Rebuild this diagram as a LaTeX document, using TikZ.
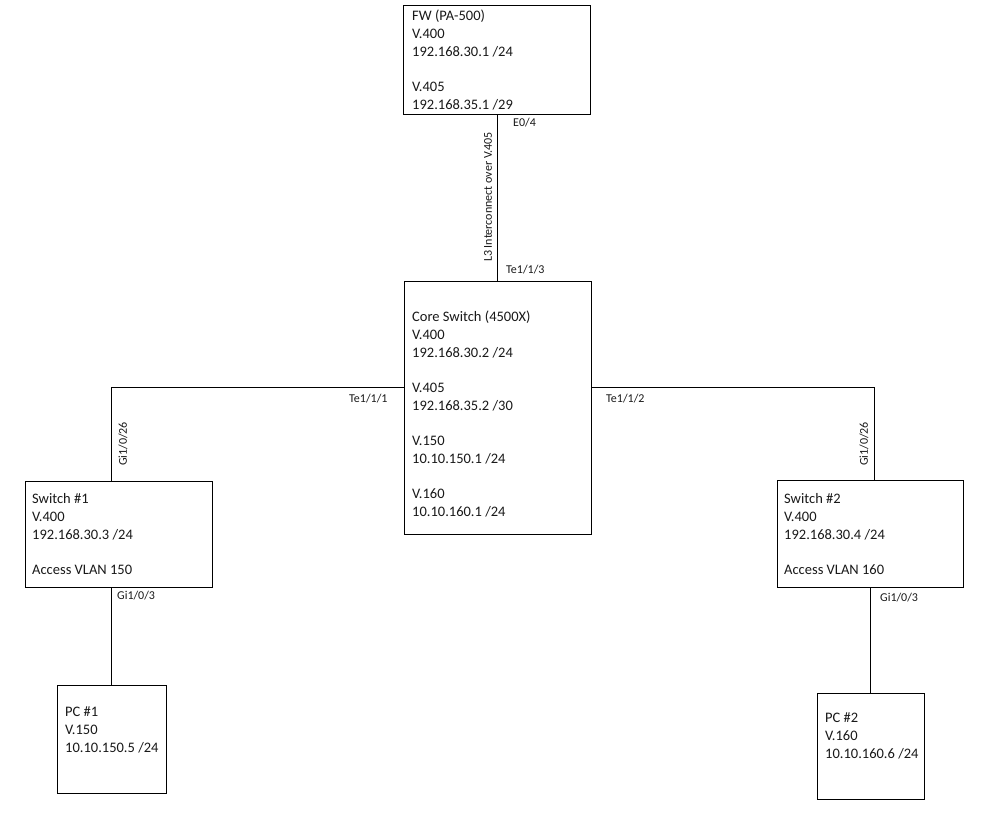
\documentclass[tikz,border=0pt]{standalone}
\usepackage{fontspec}
\setmainfont{Carlito}
\begin{document}
\begin{tikzpicture}[x=1pt,y=-1pt,
  box/.style={draw=black,line width=1.1pt,anchor=north west,inner sep=0pt},
  info/.style={anchor=north west,inner sep=0pt,align=left,text=black!90,
    font=\fontsize{14.5}{17.7}\selectfont},
  port/.style={inner sep=0pt,text=black!90,font=\fontsize{12}{14}\selectfont},
  wire/.style={draw=black,line width=1pt}]
\useasboundingbox[fill=white] (0,0) rectangle (999,826);
% boxes
\node[box,minimum width=187pt,minimum height=109pt] (fw) at (403,5) {};
\node[box,minimum width=187pt,minimum height=253pt] (core) at (404,281) {};
\node[box,minimum width=187pt,minimum height=106pt] (sw1) at (25,481) {};
\node[box,minimum width=186pt,minimum height=107pt] (sw2) at (777,480) {};
\node[box,minimum width=109pt,minimum height=108pt] (pc1) at (57,685) {};
\node[box,minimum width=107pt,minimum height=106pt] (pc2) at (817,693) {};
% texts
\node[info] (fwt) at (412,8.2) {\strut FW (PA-500)\\V.400\\192.168.30.1 /24\\ \\V.405\\192.168.35.1 /29};
\node[info] (coret) at (412,309.2) {\strut Core Switch (4500X)\\V.400\\192.168.30.2 /24\\ \\V.405\\192.168.35.2 /30\\ \\V.150\\10.10.150.1 /24\\ \\V.160\\10.10.160.1 /24};
\node[info] (sw1t) at (32,491.2) {\strut Switch \#1\\V.400\\192.168.30.3 /24\\ \\Access VLAN 150};
\node[info] (sw2t) at (784,491.2) {\strut Switch \#2\\V.400\\192.168.30.4 /24\\ \\Access VLAN 160};
\node[info] (pc1t) at (65,704.2) {\strut PC \#1\\V.150\\10.10.150.5 /24};
\node[info] (pc2t) at (825,710.2) {\strut PC \#2\\V.160\\10.10.160.6 /24};
% connectors
\coordinate (c1) at (111,387);
\coordinate (c2) at (874,387);
\coordinate (c3) at (870,600);
\draw[wire] (fw.south) -- (fw.south |- core.north);
\draw[wire] (core.west |- c1) -- (c1) -- (c1 |- sw1.north);
\draw[wire] (core.east |- c2) -- (c2) -- (c2 |- sw2.north);
\draw[wire] (c1 |- sw1.south) -- (c1 |- pc1.north);
\draw[wire] (c3 |- sw2.south) -- (c3 |- pc2.north);
% port labels
\node[port,anchor=west] (l1) at (513,123) {E0/4};
\node[port,anchor=west] (l2) at (506,270) {Te1/1/3};
\node[port,rotate=90] (l3) at (488,197) {L3 Interconnect over V.405};
\node[port,anchor=west] (l4) at (349,399) {Te1/1/1};
\node[port,anchor=west] (l5) at (606,399) {Te1/1/2};
\node[port,rotate=90] (l6) at (123,444) {Gi1/0/26};
\node[port,rotate=90] (l7) at (864,444) {Gi1/0/26};
\node[port,anchor=west] (l8) at (117,596) {Gi1/0/3};
\node[port,anchor=west] (l9) at (880,598) {Gi1/0/3};
\end{tikzpicture}
\end{document}
